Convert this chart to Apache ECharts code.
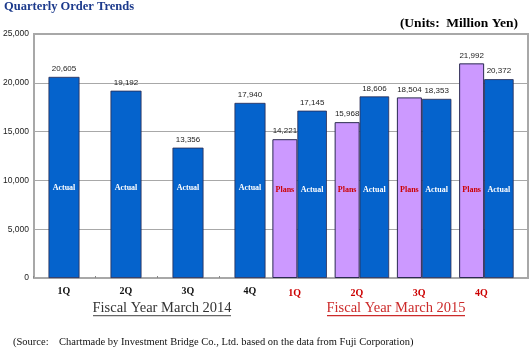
<!DOCTYPE html>
<html>
<head>
<meta charset="utf-8">
<script src="https://cdn.jsdelivr.net/npm/echarts@6/dist/echarts.min.js"></script>
<style>
html,body{margin:0;padding:0;background:#fff;}
#c{width:530px;height:350px;}
</style>
</head>
<body>
<div id="c"></div>
<script>
// ---- data ----
var quarters = ['1Q', '2Q', '3Q', '4Q'];
var actual2014 = [20605, 19192, 13356, 17940];
var plans2015 = [14221, 15968, 18504, 21992];
var actual2015 = [17145, 18606, 18353, 20372];
var yTicks = { min: 0, max: 25000, interval: 5000 };

var SERIF = '"Liberation Serif", "DejaVu Serif", serif';
var SANS = '"Liberation Sans", Arial, sans-serif';
var BLUE = '#0563cc';
var LAV = '#cc99ff';
var EDGE = '#2a2a50';

function fmt(p) { return Number(p.value).toLocaleString('en-US'); }

var chart = echarts.init(document.getElementById('c'), null, { renderer: 'canvas' });

var valLabel = { show: true, position: 'top', distance: 4, formatter: fmt, fontFamily: SANS, fontSize: 8, color: '#222' };

var option = {
  backgroundColor: '#ffffff',
  animation: false,
  grid: [
    { left: 33, right: 249, top: 34, bottom: 72 },
    { left: 268.5, right: 12.5, top: 34, bottom: 72 },
    { left: 33, right: 2, top: 34, bottom: 72, show: true, borderColor: '#a8a8a8', borderWidth: 2, backgroundColor: '#fff', z: 0 }
  ],
  xAxis: [
    { gridIndex: 0, type: 'category', data: quarters,
      axisLine: { show: false },
      axisTick: { show: true, inside: true, length: 2, lineStyle: { color: '#888' } },
      axisLabel: { margin: 8, fontFamily: SERIF, fontWeight: 'bold', fontSize: 10, color: '#111' } },
    { gridIndex: 1, type: 'category', data: quarters,
      axisLine: { show: false }, axisTick: { show: false },
      axisLabel: { margin: 10, fontFamily: SERIF, fontWeight: 'bold', fontSize: 10, color: '#cc0000', padding: [0, 10, 0, 0] } },
    { gridIndex: 2, type: 'value', show: false, min: 0, max: 1 },
    { gridIndex: 0, type: 'category', data: quarters, show: false },
    { gridIndex: 1, type: 'category', data: quarters, show: false }
  ],
  yAxis: [
    { gridIndex: 2, type: 'value', min: yTicks.min, max: yTicks.max, interval: yTicks.interval,
      axisLine: { show: false }, axisTick: { show: false },
      axisLabel: { margin: 5, fontFamily: SANS, fontSize: 8.5, color: '#222',
        formatter: function (v) { return Number(v).toLocaleString('en-US'); } },
      splitLine: { show: true, lineStyle: { color: '#a8a8a8', width: 1 } } },
    { gridIndex: 0, type: 'value', min: yTicks.min, max: yTicks.max, interval: yTicks.interval, show: false, splitLine: { show: false } },
    { gridIndex: 1, type: 'value', min: yTicks.min, max: yTicks.max, interval: yTicks.interval, show: false, splitLine: { show: false } }
  ],
  series: [
    { name: 'Actual FY2014', type: 'bar', xAxisIndex: 0, yAxisIndex: 1, data: actual2014, barWidth: 31,
      itemStyle: { color: BLUE, borderColor: EDGE, borderWidth: 0.8 }, label: valLabel, z: 3 },
    { name: 'Plans FY2015', type: 'bar', xAxisIndex: 1, yAxisIndex: 2, data: plans2015, barWidth: 25, barGap: 0,
      itemStyle: { color: LAV, borderColor: EDGE, borderWidth: 1 }, label: valLabel, z: 3 },
    { name: 'Actual FY2015', type: 'bar', xAxisIndex: 1, yAxisIndex: 2, data: actual2015, barWidth: 29.5, barGap: 0,
      itemStyle: { color: BLUE, borderColor: EDGE, borderWidth: 0.8 }, label: valLabel, z: 3 },
    // overlay text series (transparent)
    { type: 'bar', xAxisIndex: 3, yAxisIndex: 1, data: actual2014, barWidth: 31, silent: true,
      itemStyle: { color: 'rgba(0,0,0,0)' },
      label: { show: true, position: 'insideBottom', distance: 86, formatter: 'Actual', fontFamily: SERIF, fontWeight: 'bold', fontSize: 8, color: '#fff' }, z: 4 },
    { type: 'bar', xAxisIndex: 4, yAxisIndex: 2, data: plans2015, barWidth: 25, barGap: 0, silent: true,
      itemStyle: { color: 'rgba(0,0,0,0)' },
      label: { show: true, position: 'insideBottom', distance: 84, formatter: 'Plans', fontFamily: SERIF, fontWeight: 'bold', fontSize: 8, color: '#cc0000' }, z: 4 },
    { type: 'bar', xAxisIndex: 4, yAxisIndex: 2, data: actual2015, barWidth: 29.5, barGap: 0, silent: true,
      itemStyle: { color: 'rgba(0,0,0,0)' },
      label: { show: true, position: 'insideBottom', distance: 84, formatter: 'Actual', fontFamily: SERIF, fontWeight: 'bold', fontSize: 8, color: '#fff' }, z: 4 }
  ],
  graphic: [
    { type: 'text', left: 4, top: 0, style: { text: 'Quarterly Order Trends', font: 'bold 12.5px ' + SERIF, fill: '#1c3a8c' } },
    { type: 'text', right: 12, top: 17, style: { text: '(Units:  Million Yen)', font: 'bold 13.5px ' + SERIF, fill: '#000' } },
    { type: 'text', x: 162, y: 308, style: { text: 'Fiscal Year March 2014', font: '14.5px ' + SERIF, fill: '#333', align: 'center', verticalAlign: 'middle' } },
    { type: 'rect', shape: { x: 93, y: 315, width: 138, height: 1.3 }, style: { fill: '#666' }, z: 10 },
    { type: 'text', x: 396, y: 308, style: { text: 'Fiscal Year March 2015', font: '14.5px ' + SERIF, fill: '#cc2a2a', align: 'center', verticalAlign: 'middle' } },
    { type: 'rect', shape: { x: 327, y: 315, width: 138, height: 1.3 }, style: { fill: '#cc2a2a' }, z: 10 },
    { type: 'text', x: 13, y: 342, style: { text: '(Source:    Chartmade by Investment Bridge Co., Ltd. based on the data from Fuji Corporation)', font: '10.5px ' + SERIF, fill: '#111', verticalAlign: 'middle' } }
  ]
};
chart.setOption(option);
</script>
</body>
</html>
